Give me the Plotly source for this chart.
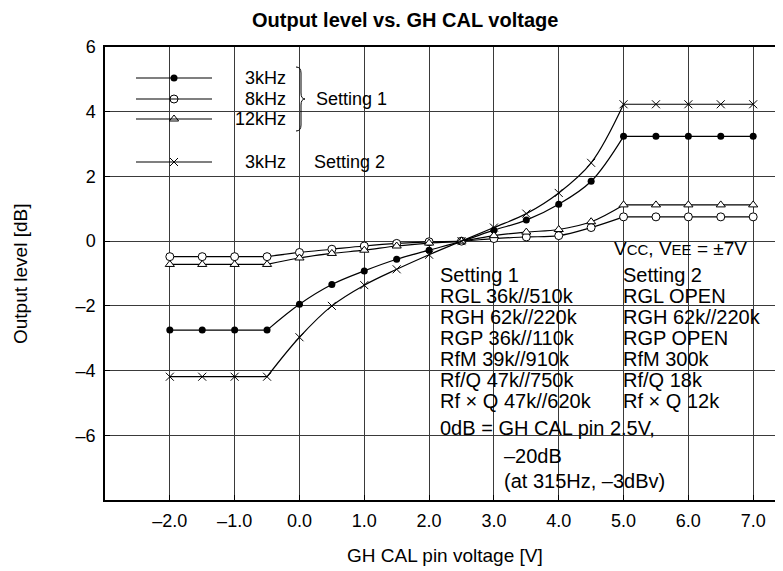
import plotly.graph_objects as go

# GH CAL pin voltage [V]
VOLT = [-2.0, -1.5, -1.0, -0.5, 0.0, 0.5, 1.0, 1.5, 2.0, 2.5,
        3.0, 3.5, 4.0, 4.5, 5.0, 5.5, 6.0, 6.5, 7.0]

# output level [dB]
S1_3K = [-2.75, -2.75, -2.75, -2.75, -1.95, -1.34, -0.92, -0.56, -0.28, 0.0,
         0.34, 0.65, 1.14, 1.85, 3.24, 3.24, 3.24, 3.24, 3.24]
S1_8K = [-0.48, -0.48, -0.48, -0.48, -0.35, -0.25, -0.15, -0.07, -0.02, 0.0,
         0.08, 0.13, 0.17, 0.42, 0.75, 0.75, 0.75, 0.75, 0.75]
S1_12K = [-0.72, -0.72, -0.72, -0.72, -0.52, -0.38, -0.28, -0.15, -0.06, 0.0,
          0.17, 0.28, 0.36, 0.60, 1.12, 1.12, 1.12, 1.12, 1.12]
S2_3K = [-4.19, -4.19, -4.19, -4.19, -2.97, -2.0, -1.36, -0.87, -0.42, 0.0,
         0.42, 0.85, 1.49, 2.42, 4.23, 4.23, 4.23, 4.23, 4.23]

X_TICKS = [-2, -1, 0, 1, 2, 3, 4, 5, 6, 7]
X_TICK_TEXT = ['\u20132.0', '\u20131.0', '0.0', '1.0', '2.0', '3.0', '4.0', '5.0', '6.0', '7.0']
Y_TICKS = [-6, -4, -2, 0, 2, 4, 6]
Y_TICK_TEXT = ['\u20136', '\u20134', '\u20132', '0', '2', '4', '6']

SETTING1 = ['Setting 1', 'RGL 36k//510k', 'RGH 62k//220k', 'RGP 36k//110k',
            'RfM 39k//910k', 'Rf/Q 47k//750k', 'Rf \u00d7 Q 47k//620k']
SETTING2 = ['Setting 2', 'RGL OPEN', 'RGH 62k//220k', 'RGP OPEN',
            'RfM 300k', 'Rf/Q 18k', 'Rf \u00d7 Q 12k']

# index of the last flat point (x=-0.5) and first saturated point (x=5.0)
LO_END, HI_START = 3, 14

# the page puts the figure 8px in from the top-left corner
OFF = 8
W, H = 783 - OFF, 571 - OFF
# plot box in page pixels: left 105, top 47, right 783, bottom 500
ML, MT, MR, MB = 105 - OFF, 47 - OFF, 0, 571 - 500
X_RANGE = [-3.0, 7.46]
Y_RANGE = [-8.0, 6.0]
PW, PH = W - ML - MR, H - MT - MB
FONT = 'Liberation Sans, Arial, sans-serif'


def paper_x(px):
    return (px - OFF - ML) / PW


def paper_y(py):
    return (H - MB - (py - OFF)) / PH


def data_x(px):
    return X_RANGE[0] + paper_x(px) * (X_RANGE[1] - X_RANGE[0])


def data_y(py):
    return Y_RANGE[0] + paper_y(py) * (Y_RANGE[1] - Y_RANGE[0])


filled = dict(symbol='circle', size=7, color='black', line=dict(width=0))
hollow = dict(symbol='circle', size=8, color='white', line=dict(color='black', width=1))
tri = dict(symbol='triangle-up', size=8, color='white', line=dict(color='black', width=1))
cross = dict(symbol='x-thin', size=8, color='black', line=dict(color='black', width=1))

series = [
    ('3kHz', S1_3K, filled, 78),
    ('8kHz', S1_8K, hollow, 99),
    ('12kHz', S1_12K, tri, 119),
    ('3kHz', S2_3K, cross, 162),
]

line = dict(color='black', width=1.2)
fig = go.Figure()

for name, ys, mk, _ in series:
    fig.add_trace(go.Scatter(x=VOLT[:LO_END + 1], y=ys[:LO_END + 1], mode='lines',
                             line=line, showlegend=False, hoverinfo='skip'))
    fig.add_trace(go.Scatter(x=VOLT[LO_END:HI_START + 1], y=ys[LO_END:HI_START + 1],
                             mode='lines', line=dict(line, shape='spline', smoothing=1),
                             showlegend=False, hoverinfo='skip'))
    fig.add_trace(go.Scatter(x=VOLT[HI_START:], y=ys[HI_START:], mode='lines',
                             line=line, showlegend=False, hoverinfo='skip'))
    fig.add_trace(go.Scatter(x=VOLT, y=ys, mode='markers', marker=mk,
                             name=name, showlegend=False))

shapes = []
# white panels that hide the grid behind the legend and the notes
shapes.append(dict(type='rect', xref='paper', yref='paper', layer='between',
                   x0=paper_x(128), x1=paper_x(397), y0=paper_y(192), y1=paper_y(65),
                   fillcolor='white', line=dict(width=0)))
shapes.append(dict(type='rect', xref='paper', yref='paper', layer='between',
                   x0=paper_x(425), x1=paper_x(778), y0=0, y1=paper_y(230),
                   fillcolor='white', line=dict(width=0)))

annotations = []
leg_font = dict(family=FONT, size=18, color='black')
for name, ys, mk, py in series:
    shapes.append(dict(type='line', xref='paper', yref='paper',
                       x0=paper_x(136), x1=paper_x(212), y0=paper_y(py), y1=paper_y(py),
                       line=dict(color='black', width=1.2)))
    fig.add_trace(go.Scatter(x=[data_x(174)], y=[data_y(py)], mode='markers',
                             marker=mk, showlegend=False, hoverinfo='skip'))
    annotations.append(dict(xref='paper', yref='paper', x=paper_x(288), y=paper_y(py),
                            xanchor='right', yanchor='middle', text=name,
                            showarrow=False, font=leg_font))

annotations.append(dict(xref='paper', yref='paper', x=paper_x(314), y=paper_y(99),
                        xanchor='left', yanchor='middle', text='Setting 1',
                        showarrow=False, font=leg_font))
annotations.append(dict(xref='paper', yref='paper', x=paper_x(312), y=paper_y(162),
                        xanchor='left', yanchor='middle', text='Setting 2',
                        showarrow=False, font=leg_font))

# curly brace grouping the Setting 1 entries
bx0, bx1, bt, bm, bb = 297, 305, 67, 99, 131


def pt(px, py):
    return f'{paper_x(px)},{paper_y(py)}'


brace = (f'M {pt(bx0 - 1, bt)} Q {pt(bx0 + 4, bt)} {pt(bx0 + 4, bt + 6)} '
         f'L {pt(bx0 + 4, bm - 6)} Q {pt(bx0 + 4, bm)} {pt(bx1, bm)} '
         f'Q {pt(bx0 + 4, bm)} {pt(bx0 + 4, bm + 6)} '
         f'L {pt(bx0 + 4, bb - 6)} Q {pt(bx0 + 4, bb)} {pt(bx0 - 1, bb)}')
shapes.append(dict(type='path', xref='paper', yref='paper', path=brace,
                   line=dict(color='black', width=1)))

note_font = dict(family=FONT, size=20, color='black')
row_tops = [267, 288, 309, 330, 351, 372, 393]
for i, (a, b) in enumerate(zip(SETTING1, SETTING2)):
    cy = row_tops[i] + 8
    annotations.append(dict(xref='paper', yref='paper', x=paper_x(438), y=paper_y(cy),
                            xanchor='left', yanchor='middle', text=a,
                            showarrow=False, font=note_font))
    annotations.append(dict(xref='paper', yref='paper', x=paper_x(621), y=paper_y(cy),
                            xanchor='left', yanchor='middle', text=b,
                            showarrow=False, font=note_font))

notes = [('0dB = GH CAL pin 2.5V,', 438, 428),
         ('\u201320dB', 502, 456),
         ('(at 315Hz, \u20133dBv)', 502, 481)]
for text, px, py in notes:
    annotations.append(dict(xref='paper', yref='paper', x=paper_x(px), y=paper_y(py),
                            xanchor='left', yanchor='middle', text=text,
                            showarrow=False, font=note_font))

small = "<span style='font-size:15px'>"
annotations.append(dict(xref='paper', yref='paper', x=paper_x(612), y=paper_y(249),
                        xanchor='left', yanchor='middle',
                        text=f'V{small}CC</span>, V{small}EE</span> = \u00b17V',
                        showarrow=False, font=dict(family=FONT, size=19, color='black')))

# axis titles and chart title placed by hand so the plot box keeps its exact position
annotations.append(dict(xref='paper', yref='paper', x=paper_x(445), y=paper_y(555),
                        xanchor='center', yanchor='middle', text='GH CAL pin voltage [V]',
                        showarrow=False, font=dict(family=FONT, size=19, color='black')))
annotations.append(dict(xref='paper', yref='paper', x=paper_x(20), y=paper_y(274),
                        xanchor='center', yanchor='middle', text='Output level [dB]',
                        textangle=-90, showarrow=False,
                        font=dict(family=FONT, size=19, color='black')))
annotations.append(dict(xref='paper', yref='paper', x=paper_x(405), y=paper_y(20),
                        xanchor='center', yanchor='middle', borderpad=0,
                        text='<b>Output level vs. GH CAL voltage</b>',
                        showarrow=False, font=dict(family=FONT, size=20, color='black')))

fig.update_layout(
    width=W, height=H,
    margin=dict(l=ML, r=MR, t=MT, b=MB, autoexpand=False),
    paper_bgcolor='white', plot_bgcolor='white',
    shapes=shapes,
    annotations=annotations,
    showlegend=False,
)

fig.update_xaxes(
    range=X_RANGE, tickvals=X_TICKS, ticktext=X_TICK_TEXT, automargin=False,
    showgrid=True, gridcolor='#3a3a3a', gridwidth=1, zeroline=False,
    showline=True, linecolor='black', linewidth=1.5, mirror=True,
    ticks='inside', ticklen=5, tickcolor='black', ticklabelstandoff=4,
    tickfont=dict(family=FONT, size=18, color='black'),
)
fig.update_yaxes(
    range=Y_RANGE, tickvals=Y_TICKS, ticktext=Y_TICK_TEXT, automargin=False,
    showgrid=True, gridcolor='#3a3a3a', gridwidth=1, zeroline=False,
    showline=True, linecolor='black', linewidth=1.5,
    ticks='inside', ticklen=5, tickcolor='black', ticklabelstandoff=4,
    tickfont=dict(family=FONT, size=18, color='black'),
)

fig.write_html('out.html')
